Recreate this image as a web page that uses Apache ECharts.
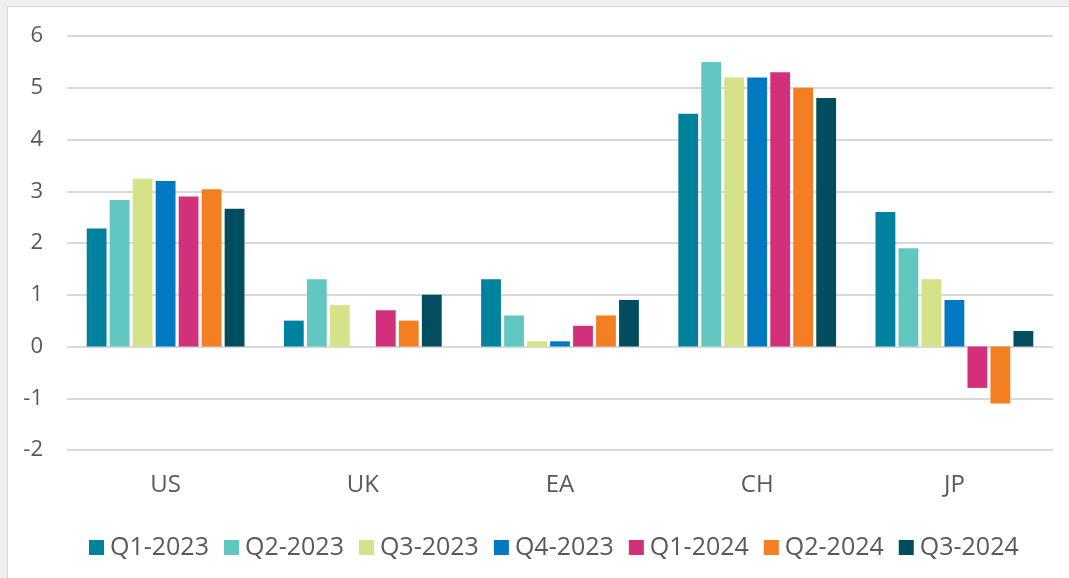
<!DOCTYPE html>
<html>
<head>
<meta charset="utf-8">
<script src="https://cdn.jsdelivr.net/npm/echarts@6/dist/echarts.min.js"></script>
<style>
html,body{margin:0;padding:0;background:#fff;}
#chart{width:1069px;height:578px;}
</style>
</head>
<body>
<div id="chart"></div>
<script>
var categories = ['US', 'UK', 'EA', 'CH', 'JP'];
var seriesNames = ['Q1-2023', 'Q2-2023', 'Q3-2023', 'Q4-2023', 'Q1-2024', 'Q2-2024', 'Q3-2024'];
var q1_2023 = [2.28, 0.5, 1.3, 4.5, 2.6];
var q2_2023 = [2.83, 1.3, 0.6, 5.5, 1.9];
var q3_2023 = [3.24, 0.8, 0.1, 5.2, 1.3];
var q4_2023 = [3.2, null, 0.1, 5.2, 0.9];
var q1_2024 = [2.9, 0.7, 0.4, 5.3, -0.8];
var q2_2024 = [3.04, 0.5, 0.6, 5.0, -1.1];
var q3_2024 = [2.66, 1.0, 0.9, 4.8, 0.3];
var colors = ['#00829E', '#62C6C1', '#D5E289', '#0079C1', '#D2307A', '#F47F22', '#004D5F'];
var yTicks = [-2, -1, 0, 1, 2, 3, 4, 5, 6];

var allData = [q1_2023, q2_2023, q3_2023, q4_2023, q1_2024, q2_2024, q3_2024];
var series = seriesNames.map(function (n, i) {
  return {
    name: n,
    type: 'bar',
    data: allData[i],
    itemStyle: { color: colors[i] },
    barGap: '16%',
    barCategoryGap: '20%'
  };
});

var chart = echarts.init(document.getElementById('chart'), null, { renderer: 'canvas' });
chart.setOption({
  animation: false,
  backgroundColor: '#f0f0f0',
  textStyle: { fontFamily: 'Open Sans' },
  graphic: [{
    type: 'rect',
    z: -10,
    silent: true,
    shape: { x: 7.5, y: 6.5, width: 1070, height: 580 },
    style: { fill: '#ffffff', stroke: '#d9d9d9', lineWidth: 1 }
  }],
  grid: { left: 67, right: 16, top: 36, bottom: 128, containLabel: false },
  legend: {
    data: seriesNames,
    left: 84,
    top: 530,
    itemWidth: 15,
    itemHeight: 15,
    itemGap: 15,
    icon: 'rect',
    textStyle: { fontSize: 25, color: '#595959', fontFamily: 'Open Sans', padding: [0, 0, 0, 1] }
  },
  xAxis: {
    type: 'category',
    data: categories,
    axisLine: { show: false, onZero: false },
    axisTick: { show: false },
    axisLabel: { fontSize: 24, color: '#595959', margin: 23, fontFamily: 'Open Sans' }
  },
  yAxis: {
    type: 'value',
    min: yTicks[0],
    max: yTicks[yTicks.length - 1],
    interval: 1,
    axisLine: { show: false },
    axisTick: { show: false },
    axisLabel: { fontSize: 22, color: '#595959', margin: 24, fontFamily: 'Open Sans' },
    splitLine: { lineStyle: { color: '#d9d9d9', width: 2 } }
  },
  series: series
});
</script>
</body>
</html>
